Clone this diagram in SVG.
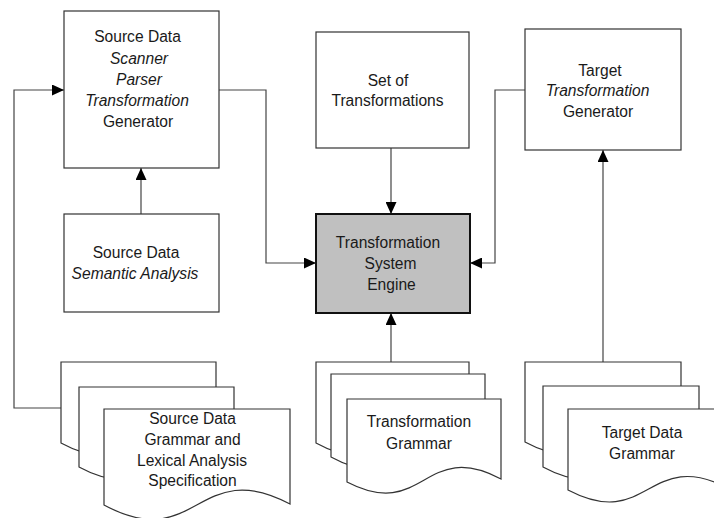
<svg xmlns="http://www.w3.org/2000/svg" width="714" height="518" viewBox="0 0 714 518">
<style>
.box{fill:#fff;stroke:#333;stroke-width:1.2}
.eng{fill:#c0c0c0;stroke:#111;stroke-width:2}
.doc{fill:#fff;stroke:#333;stroke-width:1.2}
.con{fill:none;stroke:#444;stroke-width:1.2}
text{font-family:"Liberation Sans",Arial,sans-serif;font-size:15.6px;fill:#1a1a1a;text-anchor:middle}
.it{font-style:italic}
</style>
<defs>
<marker id="ah" viewBox="0 0 12 11" refX="12" refY="5.5" markerWidth="12" markerHeight="11" markerUnits="userSpaceOnUse" orient="auto">
<path d="M0,0 L12,5.5 L0,11 Z" fill="#000"/>
</marker>
</defs>
<rect width="714" height="518" fill="#fff"/>
<g id="connectors">
<path class="con" d="M61,408 H14 V90 H64" marker-end="url(#ah)"/>
<path class="con" d="M219,90 H266 V263 H316" marker-end="url(#ah)"/>
<path class="con" d="M525,90 H495 V263 H470" marker-end="url(#ah)"/>
<path class="con" d="M141,214 V168" marker-end="url(#ah)"/>
<path class="con" d="M391,148 V214" marker-end="url(#ah)"/>
<path class="con" d="M391,362 V313" marker-end="url(#ah)"/>
<path class="con" d="M603,362 V150" marker-end="url(#ah)"/>
</g>
<g id="source-scanner">
<rect class="box" x="64" y="11" width="155" height="157"/>
<text x="137.5" y="42">Source Data</text>
<text x="139" y="64" class="it">Scanner</text>
<text x="139" y="85" class="it">Parser</text>
<text x="137" y="106" class="it">Transformation</text>
<text x="138" y="127">Generator</text>
</g>
<g id="source-semantic">
<rect class="box" x="64" y="214" width="155" height="98"/>
<text x="136" y="258">Source Data</text>
<text x="135" y="279" class="it">Semantic Analysis</text>
</g>
<g id="set-of-transformations">
<rect class="box" x="316" y="32" width="153" height="116"/>
<text x="388" y="86">Set of</text>
<text x="387.5" y="106">Transformations</text>
</g>
<g id="target-generator">
<rect class="box" x="525" y="29" width="156" height="121"/>
<text x="600" y="75.5">Target</text>
<text x="597.5" y="96" class="it">Transformation</text>
<text x="598" y="116.5">Generator</text>
</g>
<g id="engine">
<rect class="eng" x="316" y="214" width="154" height="99"/>
<text x="388" y="248">Transformation</text>
<text x="390.5" y="268.5">System</text>
<text x="391.5" y="289.5">Engine</text>
</g>
<g id="source-grammar-docs">
<path class="doc" d="M61,362 H216 V443 C138.5,401 138.5,485 61,443 Z"/>
<path class="doc" d="M79,387 H234 V467 C156.5,425 156.5,509 79,467 Z"/>
<path class="doc" d="M104,409 H290 V504 C197,455 197,555 104,505 Z"/>
<text x="192.5" y="424">Source Data</text>
<text x="192.5" y="445">Grammar and</text>
<text x="192" y="465.5">Lexical Analysis</text>
<text x="192.5" y="485.5">Specification</text>
</g>
<g id="transformation-grammar-docs">
<path class="doc" d="M316,362 H469 V443 C392.5,401 392.5,485 316,443 Z"/>
<path class="doc" d="M331,374 H485 V457 C408,415 408,499 331,457 Z"/>
<path class="doc" d="M347,399 H501 V479 C424,438 424,522 347,482 Z"/>
<text x="419" y="427">Transformation</text>
<text x="419" y="448.5">Grammar</text>
</g>
<g id="target-grammar-docs">
<path class="doc" d="M525,362 H681 V442 C603,400 603,484 525,442 Z"/>
<path class="doc" d="M543,386 H699 V467 C621,425 621,509 543,467 Z"/>
<path class="doc" d="M568,409 H728 V488 C648,447 648,532 568,490 Z"/>
<text x="642" y="437.5">Target Data</text>
<text x="642" y="458.5">Grammar</text>
</g>
</svg>
